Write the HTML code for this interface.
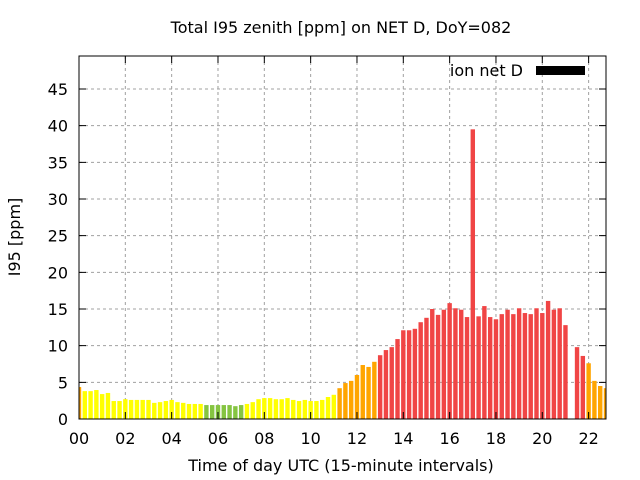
<!DOCTYPE html>
<html><head><meta charset="utf-8"><style>
body{margin:0;background:#fff}
svg{display:block;font-family:"DejaVu Sans","Liberation Sans",sans-serif}
</style></head><body>
<svg id="chart" width="640" height="480" viewBox="0 0 640 480">
<rect width="640" height="480" fill="#fff"/>
<text x="341" y="33" text-anchor="middle" font-size="16">Total I95 zenith [ppm] on NET D, DoY=082</text>
<g id="grid"></g>
<g id="bars"></g>
<g id="axes"></g>
<text x="20" y="237" text-anchor="middle" font-size="16" transform="rotate(-90 20 237)">I95 [ppm]</text>
<text x="341" y="471" text-anchor="middle" font-size="16">Time of day UTC (15-minute intervals)</text>
<g>
<text x="523" y="76" text-anchor="end" font-size="16">ion net D</text>
<rect x="536" y="66" width="49" height="9" fill="#000"/>
</g>
</svg>
<script>
const values = [4.36,3.8,3.8,3.95,3.4,3.55,2.45,2.45,2.7,2.6,2.6,2.6,2.6,2.2,2.3,2.45,2.6,2.3,2.2,2.05,2.05,2.05,1.9,1.9,1.9,1.9,1.9,1.75,1.9,2.05,2.3,2.7,2.85,2.85,2.7,2.7,2.85,2.6,2.45,2.6,2.45,2.45,2.6,3.0,3.3,4.2,4.9,5.2,6.0,7.36,7.1,7.8,8.7,9.4,9.8,10.9,12.1,12.1,12.3,13.2,13.8,15.0,14.2,14.9,15.8,15.1,14.9,13.9,39.5,14.0,15.4,13.9,13.6,14.3,14.9,14.3,15.1,14.45,14.3,15.1,14.45,16.1,14.9,15.1,12.8,null,9.8,8.6,7.6,5.2,4.5,4.2];
const yTicks = [0,5,10,15,20,25,30,35,40,45];
const xTicks = ["00","02","04","06","08","10","12","14","16","18","20","22"];
const NS="http://www.w3.org/2000/svg";
const L=79,R=606,T=56,B=419;
const yMax=49.5, xMax=22.75;
const ys=v=>B-(v/yMax)*(B-T);
const xs=h=>L+(h/xMax)*(R-L);
function mk(tag,attrs,parent){const e=document.createElementNS(NS,tag);for(const k in attrs)e.setAttribute(k,attrs[k]);parent.appendChild(e);return e;}
const grid=document.getElementById('grid'),bars=document.getElementById('bars'),axes=document.getElementById('axes');
function color(v){return v<2?'#85c441':v<4?'#ffff00':v<8?'#ffa500':'#f04545';}
yTicks.forEach(t=>{
  const y=ys(t);
  if(t>0){const g=mk('line',{x1:L,x2:R,y1:y,y2:y,stroke:'#a0a0a0','stroke-dasharray':'3,3'},grid);
  
  }
  const tk=mk('path',{d:`M${L} ${y}h7M${R} ${y}h-7`,stroke:'#000'},axes);
  
  
  const lb=mk('text',{x:L-11,y:y+6,'text-anchor':'end','font-size':16},axes);
  lb.textContent=t;
  
  
});
xTicks.forEach(t=>{
  const x=xs(parseInt(t,10));
  if(x>L){const g=mk('line',{x1:x,x2:x,y1:T,y2:B,stroke:'#a0a0a0','stroke-dasharray':'3,3'},grid);
  
  }
  const tk=mk('path',{d:`M${x} ${B}v-7M${x} ${T}v7`,stroke:'#000'},axes);
  
  
  const lb=mk('text',{x:x,y:B+25,'text-anchor':'middle','font-size':16},axes);
  lb.textContent=t;
  
  
});
const bw=4.4;
values.forEach((v,i)=>{
  if(v==null)return;
  const c=xs(i*0.25);
  let x0=Math.max(L,c-bw/2),x1=Math.min(R,c+bw/2);
  const y=Math.max(T,ys(v));
  const r=mk('rect',{x:x0,y:y,width:x1-x0,height:B-y,fill:color(v)},bars);
  
  
});
const fr=mk('rect',{x:L,y:T,width:R-L,height:B-T,fill:'none',stroke:'#000','stroke-width':1},axes);


</script>
</body></html>
